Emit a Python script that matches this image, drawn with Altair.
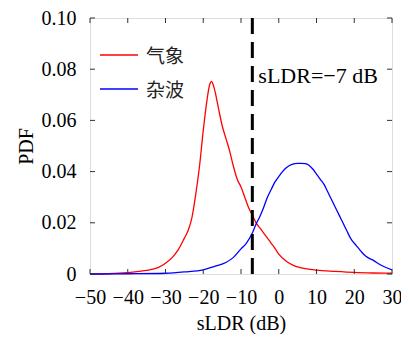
import altair as alt
import pandas as pd

# ---- data ----
series_names = ["气象", "杂波"]
series_colors = ["#ff0000", "#0000ff"]

red_x = [-50, -45, -40, -37, -35, -32, -30, -28, -26.7, -25, -24, -23, -22, -21, -20, -19,
         -18.3, -17.8, -17, -16, -15, -14, -13, -12, -11, -10, -9, -8, -7, -6, -5, -4, -3,
         -2, -1, 0, 2, 4, 6, 10, 15, 20, 25, 30]
red_y = [0.0, 0.0001, 0.0005, 0.001, 0.0014, 0.0025, 0.0042, 0.0068, 0.0093, 0.014, 0.017,
         0.022, 0.031, 0.042, 0.056, 0.068, 0.074, 0.0752, 0.072, 0.065, 0.058, 0.053, 0.048,
         0.042, 0.037, 0.034, 0.030, 0.026, 0.023, 0.020, 0.018, 0.016, 0.014, 0.012, 0.010,
         0.0078, 0.005, 0.0033, 0.0024, 0.0015, 0.001, 0.0006, 0.0004, 0.0003]

blue_x = [-50, -40, -30, -25, -20, -17, -14, -12, -10, -8.6, -7, -6, -5, -4, -3, -2, -1, 0,
          1, 2, 3.5, 5, 6, 7, 8, 9, 10, 11, 12, 13, 14, 15, 16, 17, 18, 19, 20, 21, 22, 23,
          25, 27, 30]
blue_y = [0.0, 0.0001, 0.0003, 0.0008, 0.0016, 0.003, 0.0045, 0.0065, 0.0098, 0.012, 0.016,
          0.0195, 0.0225, 0.026, 0.030, 0.033, 0.036, 0.038, 0.040, 0.0415, 0.0428, 0.0432,
          0.0432, 0.0431, 0.0425, 0.041, 0.039, 0.037, 0.035, 0.032, 0.029, 0.026, 0.023,
          0.020, 0.017, 0.014, 0.012, 0.0103, 0.0085, 0.007, 0.0054, 0.0035, 0.0016]

threshold = [-7]
threshold_label = ["sLDR=\u22127 dB"]

x_ticks = [-50, -40, -30, -20, -10, 0, 10, 20, 30]
y_ticks = [0, 0.02, 0.04, 0.06, 0.08, 0.10]

x_title = "sLDR (dB)"
y_title = "PDF"

# ---- build tables ----
curves = pd.concat([
    pd.DataFrame({"x": red_x, "y": red_y, "s": series_names[0], "o": 0}),
    pd.DataFrame({"x": blue_x, "y": blue_y, "s": series_names[1], "o": 1}),
])
thr = pd.DataFrame({"t": threshold, "label": threshold_label})
xt = pd.DataFrame({"v": x_ticks})
yt = pd.DataFrame({"v": y_ticks})
leg = pd.DataFrame({"s": series_names, "row": [0, 1]})

W, H = 302, 256
SERIF = "Liberation Serif"
FS = 20

xscale = alt.Scale(domain=[-50, 30], nice=False, zero=False)
yscale = alt.Scale(domain=[0, 0.1], nice=False, zero=False)
cscale = alt.Scale(domain=series_names, range=series_colors)

xaxis = alt.Axis(values=x_ticks, title=x_title, grid=False, domain=False, ticks=False,
                 labelFont=SERIF, labelFontSize=FS, labelColor="black", labelPadding=13,
                 labelExpr="format(datum.value, 'd')", labelFlush=False, labelOverlap=False,
                 labelBound=False,
                 titleFont=SERIF, titleFontSize=FS, titleFontWeight="normal", titleColor="black",
                 titleX=W / 2, titleY=49, titleBaseline="middle")
yaxis = alt.Axis(values=y_ticks, title=y_title, grid=False, domain=False, ticks=False,
                 labelFont=SERIF, labelFontSize=FS, labelColor="black", labelPadding=14,
                 labelExpr="datum.value == 0 ? '0' : format(datum.value, '.2f')",
                 labelFlush=False, labelOverlap=False, labelBound=False,
                 titleFont=SERIF, titleFontSize=FS, titleFontWeight="normal", titleColor="black",
                 titleX=-64, titleY=H / 2, titleBaseline="middle", titleAlign="center")


def X(field):
    return alt.X(field, type="quantitative", scale=xscale, axis=xaxis, title=x_title)


def Y(field):
    return alt.Y(field, type="quantitative", scale=yscale, axis=yaxis, title=y_title)


lines = alt.Chart(curves).mark_line(strokeWidth=1.3, interpolate="monotone").encode(
    x=X("x"),
    y=Y("y"),
    color=alt.Color("s:N", scale=cscale, legend=None),
    order="o:Q",
    detail="s:N",
)

dash = alt.Chart(thr).mark_rule(color="black", strokeWidth=3, strokeDash=[16, 8]).encode(
    x=X("t")
)

ann = alt.Chart(thr).mark_text(align="left", baseline="middle", dx=6, font=SERIF,
                               fontSize=22, color="black").encode(
    x=X("t"),
    y=alt.value(58),
    text="label:N",
)

tick_style = dict(color="#333333", strokeWidth=1)
bt = alt.Chart(xt).mark_rule(**tick_style).encode(
    x=X("v"), y=alt.value(H), y2=alt.value(H - 5))
tt = alt.Chart(xt).mark_rule(**tick_style).encode(
    x=X("v"), y=alt.value(0), y2=alt.value(5))
lt = alt.Chart(yt).mark_rule(**tick_style).encode(
    y=Y("v"), x=alt.value(0), x2=alt.value(5))
rt = alt.Chart(yt).mark_rule(**tick_style).encode(
    y=Y("v"), x=alt.value(W), x2=alt.value(W - 5))

leg_lines = alt.Chart(leg).transform_calculate(
    py="37 + datum.row * 34"
).mark_rule(strokeWidth=1.5).encode(
    x=alt.value(10), x2=alt.value(48),
    y=alt.Y("py:Q", scale=None),
    color=alt.Color("s:N", scale=cscale, legend=None),
)
leg_text = alt.Chart(leg).transform_calculate(
    py="39 + datum.row * 34"
).mark_text(align="left", baseline="middle", font="Noto Sans CJK SC", fontSize=19,
            color="#222222").encode(
    x=alt.value(56),
    y=alt.Y("py:Q", scale=None),
    text="s:N",
)

chart = alt.layer(lines, dash, ann, bt, tt, lt, rt, leg_lines, leg_text).properties(
    width=W, height=H,
    padding={"left": 82, "top": 10, "right": 9, "bottom": 60},
    autosize=alt.AutoSizeParams(type="none"),
).configure_view(stroke="#222222", strokeWidth=1.2).configure(background="white")

chart.save("out.html", embed_options={"renderer": "svg", "actions": False})
